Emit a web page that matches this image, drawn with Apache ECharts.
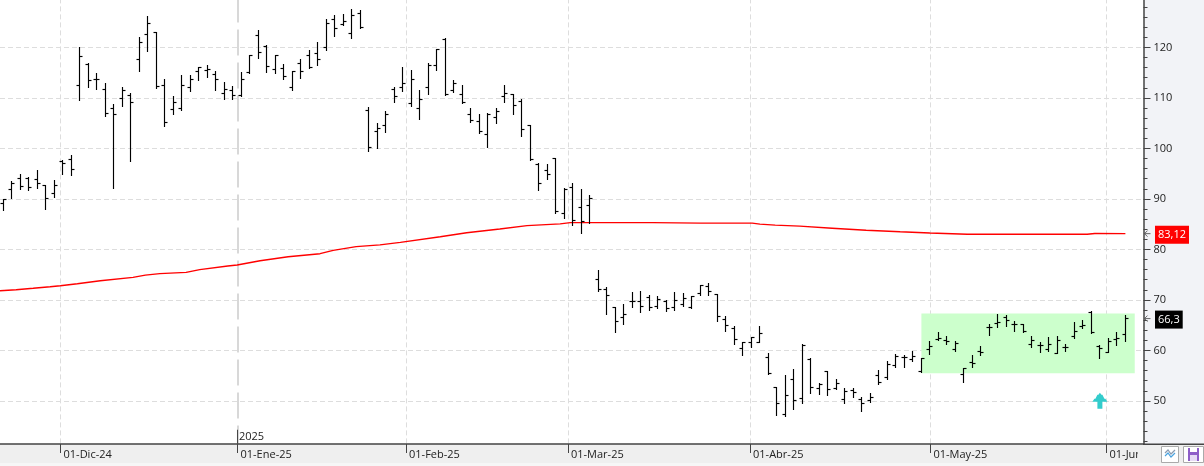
<!DOCTYPE html>
<html>
<head>
<meta charset="utf-8">
<style>html,body{margin:0;padding:0;background:#fff}#chart{width:1204px;height:466px}</style>
<script src="https://cdn.jsdelivr.net/npm/echarts@6/dist/echarts.min.js"></script>
</head>
<body>
<div id="chart"></div>
<script>
// Daily OHLC prices, one entry per session in chart order
const opens = [89.1,91.9,94.1,94.0,93.9,92.7,91.1,97.45,97.85,112.5,116.55,113.6,111.7,108.0,109.95,110.4,117.65,122.6,122.95,112.5,107.75,107.9,112.1,115.3,115.35,114.7,110.9,111.5,110.5,115.1,122.4,120.25,115.7,115.9,112.05,116.85,118.4,118.7,120.0,125.6,124.6,122.8,126.75,107.55,103.4,104.6,111.7,112.1,108.95,107.95,112.1,116.45,121.5,111.45,110.7,106.75,105.4,102.8,106.2,110.35,110.6,109.35,104.45,96.9,95.7,98.05,87.15,92.3,88.35,88.75,74.05,72.05,68.5,66.45,69.75,69.6,70.55,68.7,69.65,68.55,69.15,68.55,71.2,72.65,71.1,66.1,64.4,60.3,61.5,61.5,58.5,52.7,47.35,54.2,50.4,58.2,52.4,55.75,52.4,50.2,52.0,50.2,50.15,54.95,54.6,56.95,58.5,58.2,55.9,60.15,62.15,61.95,60.15,55.2,57.65,59.7,64.45,65.25,66.45,65.05,65.1,61.15,61.0,60.15,59.35,60.5,62.8,64.8,67.45,60.7,59.65,62.15,63.15];
const highs = [89.9,93.4,94.75,94.3,95.55,92.7,93.7,97.65,98.65,120.0,116.85,114.9,112.9,108.75,112.1,110.9,122.0,126.2,122.95,113.55,110.35,114.5,114.5,116.05,116.45,115.15,113.1,112.3,115.1,118.4,123.4,120.45,118.4,116.65,115.3,117.65,119.3,121.0,125.45,126.25,126.55,127.55,127.35,108.15,104.95,107.35,112.1,115.95,115.5,111.5,116.85,119.5,121.8,113.5,112.5,107.95,106.75,106.95,107.95,112.5,110.7,109.75,104.6,97.05,96.75,98.05,92.1,93.0,91.8,90.75,75.8,72.4,68.55,69.0,71.4,71.6,70.85,70.6,69.8,71.4,71.2,70.75,72.95,73.25,71.1,66.65,64.8,61.6,62.65,64.65,59.3,52.75,54.95,56.15,61.2,58.3,53.35,55.9,54.15,52.4,52.4,50.65,51.45,55.95,57.9,59.25,59.0,59.8,58.4,61.7,63.45,62.85,61.8,56.35,59.0,60.8,65.1,67.1,66.9,65.8,65.1,62.85,61.5,62.5,62.8,61.15,65.45,65.9,67.65,60.9,62.3,63.45,67.0];
const lows = [87.7,90.1,91.85,91.65,92.05,87.9,90.2,94.8,94.6,109.5,112.05,111.65,106.3,92.05,108.3,97.4,115.2,119.2,111.9,104.3,106.7,107.5,111.25,113.45,114.0,111.45,109.65,109.65,110.35,114.9,117.8,115.0,114.8,113.65,111.45,113.85,115.8,116.4,119.4,122.15,124.4,121.75,123.75,99.4,99.95,103.15,109.1,111.25,108.3,105.7,110.6,115.4,110.45,111.05,108.9,105.1,103.0,100.15,104.9,109.1,106.65,102.35,97.6,91.65,93.75,87.1,86.05,84.7,83.05,85.05,71.7,67.15,63.6,65.1,68.55,67.55,67.95,68.35,67.75,67.95,68.7,68.3,70.9,70.85,65.7,63.8,61.2,59.05,60.65,61.5,55.3,47.15,46.95,48.35,49.55,51.45,51.3,51.1,52.25,49.55,50.65,47.9,49.65,53.25,54.3,56.65,56.6,57.9,55.55,59.15,62.0,61.1,59.85,53.7,56.6,59.05,62.95,64.45,64.7,63.8,63.45,60.65,59.65,59.7,59.3,59.85,62.4,64.4,63.25,58.45,59.5,61.0,61.8];
const closes = [89.9,93.0,92.5,92.25,93.1,90.1,92.7,97.0,95.8,118.25,113.5,113.55,106.9,106.75,111.4,109.15,121.0,124.8,112.2,105.2,109.15,112.5,113.7,116.05,115.6,113.7,111.6,110.5,113.7,118.4,119.05,116.25,118.4,114.3,115.3,115.3,116.0,117.65,124.8,123.8,125.2,126.25,124.0,100.25,104.0,106.75,110.35,112.9,113.7,109.75,116.45,119.5,110.65,112.9,109.1,105.6,103.35,106.7,107.3,110.9,108.55,103.8,97.8,93.1,94.8,87.5,91.85,85.7,85.5,90.15,72.1,70.85,65.65,67.1,69.75,68.75,68.5,70.05,68.2,69.8,70.25,70.6,72.85,71.7,66.65,64.85,62.1,61.5,62.6,63.35,55.5,49.4,51.0,50.0,60.95,52.75,53.3,52.2,53.35,51.85,51.6,49.4,50.6,53.7,57.25,58.85,58.5,58.85,58.3,60.7,62.35,61.8,61.3,56.35,57.4,59.5,64.6,65.45,66.0,65.05,63.65,62.0,61.0,61.1,61.95,60.65,63.8,64.9,63.45,60.3,61.75,62.3,66.3];

// Long moving average, read at session positions along its course
const maIndex = [-0.4,1.5,3.5,5.5,6.7,8.7,11.4,15.25,16.7,18.4,21.5,23.1,26.4,27.5,30.2,33.5,37.25,38.8,41.5,44.3,46.7,51.4,54.5,58.4,61.6,65.5,66.7,76.4,82,88.1,89,90.8,93.7,97.5,101.5,105.5,109,113.4,127.5,128.4,132];
const maValue = [71.82,72.02,72.3,72.6,72.8,73.2,73.8,74.45,74.9,75.2,75.45,76.0,76.7,76.9,77.75,78.55,79.15,79.8,80.55,80.9,81.4,82.5,83.3,84.05,84.7,85.05,85.3,85.3,85.2,85.2,85.0,84.8,84.6,84.2,83.8,83.5,83.25,83.0,83.0,83.15,83.12];

// Month boundaries on the time scale, expressed in session positions
const monthPositions = [6.72,27.54,47.37,66.42,87.84,109.07,129.78];
const monthLabels = ['01-Dic-24','01-Ene-25','01-Feb-25','01-Mar-25','01-Abr-25','01-May-25','01-Jun-25'];
const yearPosition = 27.54;
const yearLabel = '2025';

// Highlighted trading range and buy signal
const rangeStart = 108, rangeEnd = 133.1, rangeLow = 55.5, rangeHigh = 67.3;
const signalIndex = 129, signalValue = 50.05;

// Positions just past the last session, used to park the last-value tags
const tagIndex = 134.6;

const comma = v => String(v).replace('.', ',');
const AXIS = '#444';
const TEXT = '#222';
const FONT = '"Open Sans", "Noto Sans", sans-serif';

const bars = opens.map((o, i) => [i, o, highs[i], lows[i], closes[i]]);
const maLine = maIndex.map((x, i) => [x, maValue[i]]);
const lastMa = maValue[maValue.length - 1];
const lastClose = closes[closes.length - 1];

function renderBar(params, api) {
  const x = Math.round(api.coord([api.value(0), 0])[0] - 0.5) + 0.5;
  const pos = d => Math.round(api.coord([0, d])[1] - 0.5) + 0.5;
  const yo = pos(api.value(1)), yh = pos(api.value(2)), yl = pos(api.value(3)), yc = pos(api.value(4));
  const style = { stroke: '#000', lineWidth: 1.15, fill: null };
  return {
    type: 'group',
    children: [
      { type: 'line', shape: { x1: x, y1: yh - 0.5, x2: x, y2: yl + 0.5 }, style },
      { type: 'line', shape: { x1: x - 3, y1: yo, x2: x, y2: yo }, style },
      { type: 'line', shape: { x1: x, y1: yc, x2: x + 3, y2: yc }, style }
    ]
  };
}

const valueTag = (name, value, bg) => ({
  type: 'scatter', name, z: 8, clip: false, silent: true,
  data: [[tagIndex, value]],
  symbol: 'path://M7 0 L0 3.5 L7 7 M0 3.5 L14 3.5',
  symbolSize: [6, 6],
  itemStyle: { color: 'none', borderColor: '#555', borderWidth: 0.9, opacity: 1 },
  label: {
    show: true, position: 'right', distance: 2, offset: [0, 1],
    formatter: p => comma(p.value[1]),
    color: '#fff', backgroundColor: bg, fontFamily: FONT, fontSize: 11,
    padding: [3, 3, 3, 3], lineHeight: 12
  }
});

const chart = echarts.init(document.getElementById('chart'));
chart.setOption({
  animation: false,
  backgroundColor: '#fff',
  grid: { left: 0, width: 1143.5, top: -53.6, height: 505, outerBoundsMode: 'none' },
  xAxis: {
    type: 'value', min: -0.4, max: 134.13, z: 4,
    offset: -7.4,
    splitLine: { show: false },
    axisLine: { onZero: false, lineStyle: { color: AXIS, width: 1.5 } },
    axisTick: { show: true, length: 9, customValues: monthPositions, lineStyle: { color: AXIS, width: 1 } },
    axisLabel: {
      show: true, customValues: monthPositions, align: 'left', margin: 5, padding: [0, 0, 0, 3],
      color: TEXT, fontFamily: FONT, fontSize: 11, hideOverlap: false,
      formatter: v => monthLabels[monthPositions.indexOf(v)]
    }
  },
  yAxis: {
    type: 'value', position: 'right', min: 40, max: 140, interval: 10, z: 1,
    axisLine: { show: true, onZero: false, lineStyle: { color: AXIS, width: 1.5 } },
    axisTick: { show: true, length: 7, lineStyle: { color: AXIS, width: 1 } },
    minorTick: { show: true, splitNumber: 5, length: 4, lineStyle: { color: AXIS, width: 1 } },
    splitLine: { show: true, lineStyle: { color: '#ddd', type: [5, 3], width: 1 } },
    axisLabel: {
      color: TEXT, fontFamily: FONT, fontSize: 11, margin: 10,
      formatter: v => (v < 50 ? '' : String(v))
    }
  },
  graphic: { elements: [
    // side and bottom panels
    { type: 'rect', z: 0, silent: true, shape: { x: 1144, y: 0, width: 60, height: 466 }, style: { fill: '#f2f3f7' } },
    { type: 'rect', z: 3, silent: true, shape: { x: 0, y: 444, width: 1204, height: 22 }, style: { fill: '#efefef' } },
    { type: 'rect', z: 3, silent: true, shape: { x: 0, y: 463, width: 1204, height: 3 }, style: { fill: '#f6f6f6' } },
    { type: 'rect', z: 5, silent: true, shape: { x: 1138, y: 445, width: 66, height: 18 }, style: { fill: '#efefef' } },
    { type: 'rect', z: 5, silent: true, shape: { x: 1143, y: 443.5, width: 61, height: 1.5 }, style: { fill: AXIS } },
    // indicator toggle button
    { type: 'rect', z: 6, silent: true, shape: { x: 1161.5, y: 446.5, width: 17, height: 16 }, style: { fill: '#fff', stroke: '#aaa', lineWidth: 1 } },
    { type: 'polyline', z: 6, silent: true, shape: { points: [[1165, 453], [1168, 450], [1171, 454], [1175, 450]] }, style: { stroke: '#8a9bb0', lineWidth: 1.2, fill: null } },
    { type: 'polyline', z: 6, silent: true, shape: { points: [[1165, 456], [1168, 453], [1171, 457], [1175, 453]] }, style: { stroke: '#4aa3df', lineWidth: 1.2, fill: null } },
    // save button
    { type: 'rect', z: 6, silent: true, shape: { x: 1183.5, y: 446.5, width: 20, height: 16 }, style: { fill: '#fff', stroke: '#aaa', lineWidth: 1 } },
    { type: 'rect', z: 6, silent: true, shape: { x: 1188, y: 448, width: 11, height: 13 }, style: { fill: '#8e5fc8' } },
    { type: 'rect', z: 6, silent: true, shape: { x: 1190, y: 448, width: 7, height: 4 }, style: { fill: '#fff' } },
    { type: 'rect', z: 6, silent: true, shape: { x: 1190, y: 455, width: 7, height: 6 }, style: { fill: '#e6dcf5' } }
  ] },
  series: [
    {
      type: 'line', name: 'Month grid', z: 1, silent: true, symbol: 'none', data: [],
      markLine: {
        z: 1, silent: true, symbol: 'none', animation: false, label: { show: false },
        lineStyle: { color: '#ddd', type: [5, 3], width: 1 },
        data: monthPositions.filter(v => v !== yearPosition).map(v => ({ xAxis: v }))
          .concat([{ xAxis: yearPosition, lineStyle: { color: '#ccc', width: 1.5, type: [26, 7] } }])
      }
    },
    {
      type: 'line', name: 'Media', z: 3, silent: true, symbol: 'none', data: maLine,
      lineStyle: { color: '#f00', width: 1.4 },
      markArea: {
        z: 2, silent: true, animation: false, label: { show: false },
        itemStyle: { color: '#ccffcc', opacity: 1 },
        data: [[{ coord: [rangeStart, rangeLow] }, { coord: [rangeEnd, rangeHigh] }]]
      }
    },
    {
      type: 'custom', name: 'OHLC', z: 4, silent: true, renderItem: renderBar, data: bars,
      encode: { x: 0, y: [1, 2, 3, 4] }
    },
    {
      type: 'scatter', name: 'Señal', z: 5, silent: true, data: [[signalIndex, signalValue]],
      symbol: 'path://M7.5 0 L9 2 L10 2 L12 6 L13 6 L15 9 L10 9 L10 16 L5 16 L5 9 L0 9 L2 6 L3 6 L5 2 L6 2 Z',
      symbolSize: [15, 16], itemStyle: { color: '#33cccc', opacity: 1 }
    },
    {
      type: 'scatter', name: 'Año', z: 8, silent: true, clip: false,
      data: [[yearPosition, 42.9]], symbol: 'rect', symbolSize: [1, 14],
      itemStyle: { color: AXIS, opacity: 1 },
      label: {
        show: true, position: 'right', distance: 1, formatter: yearLabel,
        color: TEXT, fontFamily: FONT, fontSize: 11
      }
    },
    valueTag('Último media', lastMa, '#f00'),
    valueTag('Último cierre', lastClose, '#000')
  ]
});
</script>
</body>
</html>
